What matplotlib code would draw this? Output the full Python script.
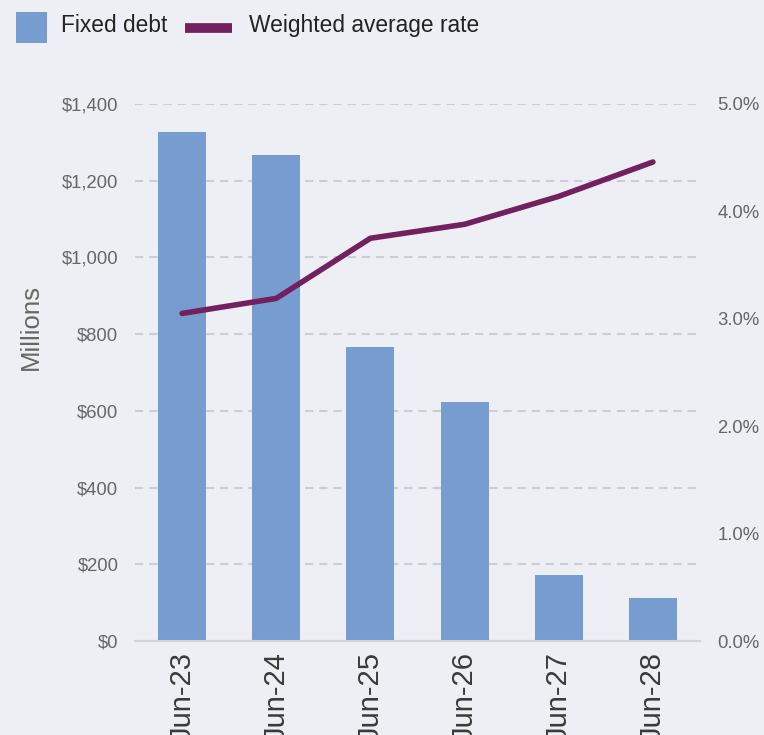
import matplotlib.pyplot as plt
from matplotlib.patches import Rectangle
from matplotlib.lines import Line2D
from matplotlib.ticker import FuncFormatter

# data
periods = ['Jun-23', 'Jun-24', 'Jun-25', 'Jun-26', 'Jun-27', 'Jun-28']
fixed_debt = [1327, 1267, 766, 623, 172, 112]          # $ millions
avg_rate = [3.05, 3.19, 3.75, 3.88, 4.14, 4.46]         # percent

BG = '#eeeff4'
BAR_COLOR = '#779ccf'
LINE_COLOR = '#722060'
GRID_COLOR = '#cbced7'
TICK_COLOR = '#666666'

W, H = 764, 735

plt.rcParams['font.family'] = ['Liberation Sans', 'DejaVu Sans']

fig = plt.figure(figsize=(W / 100, H / 100), dpi=100, facecolor=BG)
ax = fig.add_axes([135 / W, 1 - 641 / H, 565 / W, 537 / H])
ax.set_facecolor(BG)

x = list(range(len(periods)))
ax.bar(x, fixed_debt, width=0.51, color=BAR_COLOR, zorder=2)
ax.set_xlim(-0.5, len(periods) - 0.5)
ax.set_ylim(0, 1400)
ax.set_yticks(range(0, 1401, 200))
ax.yaxis.set_major_formatter(FuncFormatter(lambda v, p: f'${v:,.0f}'))
ax.yaxis.grid(True, color=GRID_COLOR, linestyle=(0, (4, 2.8)), linewidth=1.5, zorder=0)
ax.set_xticks(x)
ax.set_xticklabels(periods, rotation=90, fontsize=21, color='#3a3a3a')
ax.tick_params(axis='y', length=0, pad=12, labelsize=13.3, labelcolor=TICK_COLOR)
ax.tick_params(axis='x', length=0, pad=8)

for s in ['top', 'right', 'left']:
    ax.spines[s].set_visible(False)
ax.spines['bottom'].set_color('#d4d4d8')
ax.spines['bottom'].set_linewidth(1.5)

fig.text(31 / W, 1 - 327 / H, 'Millions', rotation=90, ha='center', va='center',
         fontsize=18.5, color=TICK_COLOR)

# secondary axis for the rate line
ax2 = ax.twinx()
ax2.plot(x, avg_rate, color=LINE_COLOR, linewidth=4, solid_capstyle='round', zorder=3)
ax2.set_ylim(0, 5)
ax2.set_yticks(range(0, 6))
ax2.yaxis.set_major_formatter(FuncFormatter(lambda v, p: f'{v:.1f}%'))
ax2.tick_params(axis='y', length=0, pad=12.5, labelsize=13.3, labelcolor=TICK_COLOR)
for s in ['top', 'right', 'left', 'bottom']:
    ax2.spines[s].set_visible(False)

# legend drawn by hand at the top
fig.add_artist(Rectangle((16 / W, 1 - 43 / H), 31 / W, 31 / H, transform=fig.transFigure,
                         facecolor=BAR_COLOR, edgecolor='none'))
fig.text(61 / W, 1 - 32 / H, 'Fixed debt', fontsize=16.4, color='#222222', va='baseline')
fig.add_artist(Line2D([185 / W, 232 / W], [1 - 27.5 / H, 1 - 27.5 / H], transform=fig.transFigure,
                      color=LINE_COLOR, linewidth=7, solid_capstyle='butt'))
fig.text(249 / W, 1 - 32 / H, 'Weighted average rate', fontsize=16.4, color='#222222', va='baseline')

fig.savefig('out.png', dpi=100, facecolor=BG)
